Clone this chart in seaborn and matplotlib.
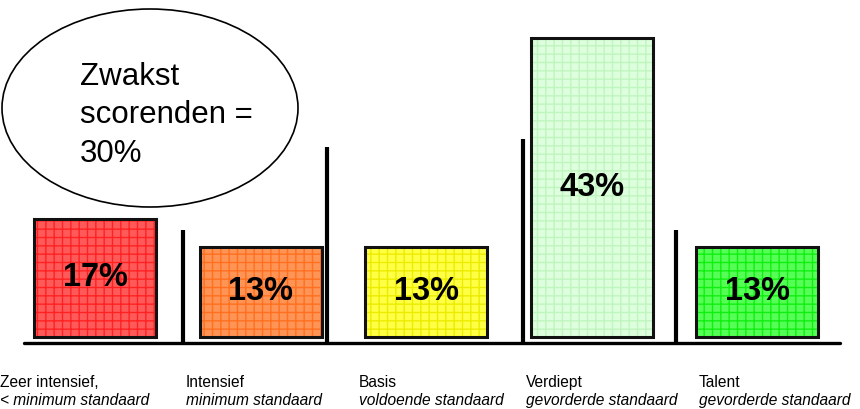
import matplotlib
matplotlib.use("Agg")
import matplotlib.pyplot as plt
from matplotlib.patches import Ellipse, Rectangle
import seaborn as sns

# Data
categories = ["Zeer intensief", "Intensief", "Basis", "Verdiept", "Talent"]
percentages = [17, 13, 13, 43, 13]
label_top = ["Zeer intensief,", "Intensief", "Basis", "Verdiept", "Talent"]
label_bottom = ["< minimum standaard", "minimum standaard", "voldoende standaard",
                "gevorderde standaard", "gevorderde standaard"]
bubble_lines = ["Zwakst", "scorenden =", "30%"]

# Styles
face_colors = ["#ff5a5a", "#ff9455", "#ffff45", "#ddffdd", "#55ff55"]
hatch_colors = ["#ff2222", "#ff7020", "#ecec00", "#bff5bf", "#11ee11"]

W, H = 860, 409
PX_PER_CAT = 165.45
X0_PX = 95.3          # pixel x of first bar centre
Y0_PX = 337           # pixel y of bar bottoms
PX_PER_PCT = 6.95

sns.set_theme(style="white")
plt.rcParams['font.family'] = ['Liberation Sans', 'DejaVu Sans']
plt.rcParams['text.color'] = 'black'
plt.rcParams['hatch.linewidth'] = 1.0

fig = plt.figure(figsize=(W / 100, H / 100), dpi=100)
ax = fig.add_axes([0, 0, 1, 1])

sns.barplot(x=categories, y=percentages, hue=categories, palette=face_colors,
            saturation=1, legend=False, width=0.737, linewidth=0, ax=ax)

# hatch overlay + black border on each bar
for patch, hc in zip(ax.patches, hatch_colors):
    x, y = patch.get_xy()
    w, h = patch.get_width(), patch.get_height()
    ax.add_patch(Rectangle((x, y), w, h, facecolor="none", edgecolor=hc,
                           hatch="++", linewidth=0, zorder=3))
    ax.add_patch(Rectangle((x, y), w, h, facecolor="none", edgecolor="#111111",
                           linewidth=2.2, zorder=4))

for i, v in enumerate(percentages):
    ax.text(i, v / 2, f"{v}%", ha="center", va="center", fontsize=23.5,
            fontweight="bold", color="black", zorder=5)

ax.set_xlim(-X0_PX / PX_PER_CAT, (W - X0_PX) / PX_PER_CAT)
ax.set_ylim(-(H - Y0_PX) / PX_PER_PCT, Y0_PX / PX_PER_PCT)
ax.axis("off")

# baseline and separators
base_y = -6 / PX_PER_PCT
ax.axhline(base_y, xmin=24 / W, xmax=840 / W, color="black", linewidth=2.4)
sep_x = [(px - X0_PX) / PX_PER_CAT for px in (183, 327, 523, 676)]
sep_top = [(Y0_PX - py) / PX_PER_PCT for py in (230, 147, 139, 230)]
for sx, st in zip(sep_x, sep_top):
    ax.plot([sx, sx], [base_y, st], color="black", linewidth=3,
            solid_capstyle="butt")

# category labels
label_left_px = [0, 186, 359, 526, 699]
for lx, t1, t2 in zip(label_left_px, label_top, label_bottom):
    fig.text(lx / W, 1 - 387 / H, t1, ha="left", va="baseline", fontsize=11.2,
             color="black")
    fig.text(lx / W, 1 - 405 / H, t2, ha="left", va="baseline", fontsize=11.2,
             style="italic", color="black")

# bubble
fig.patches.append(Ellipse((150 / W, 1 - 108 / H), 296 / W, 198 / H,
                           transform=fig.transFigure, facecolor="white",
                           edgecolor="black", linewidth=1.2))
for line, by in zip(bubble_lines, (85, 123, 162)):
    fig.text(80 / W, 1 - by / H, line, ha="left", va="baseline", fontsize=22.5,
             color="black")

fig.savefig("out.png", dpi=100)
